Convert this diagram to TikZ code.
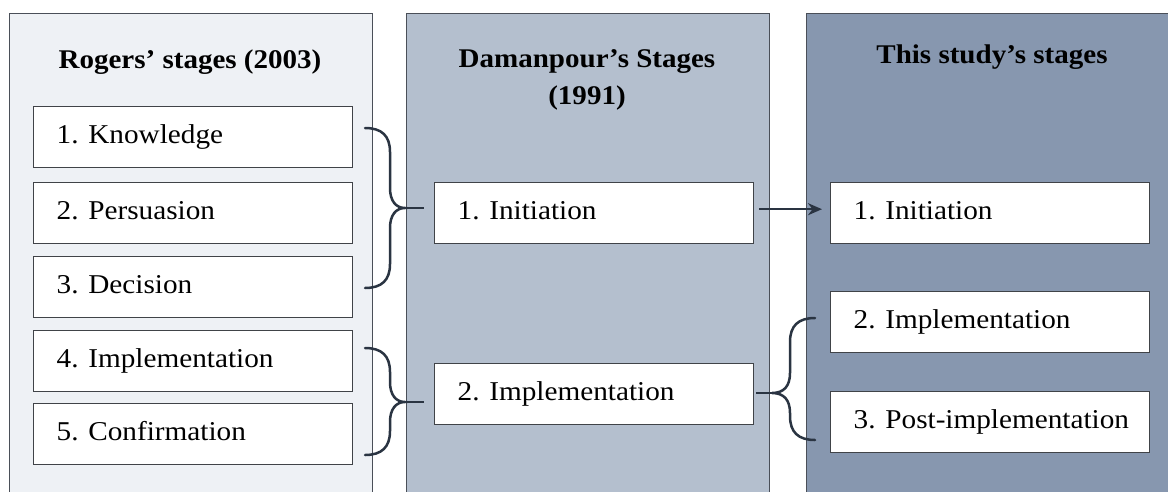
\documentclass[tikz,border=0pt]{standalone}
\usepackage{fontspec}
\setmainfont{Liberation Serif}[FakeStretch=1.075]
\usetikzlibrary{calc,arrows.meta}

\definecolor{colA}{HTML}{EEF1F5}
\definecolor{colB}{HTML}{B4BFCE}
\definecolor{colC}{HTML}{8797AF}
\definecolor{frame}{HTML}{4A4F58}
\definecolor{boxline}{HTML}{404348}
\definecolor{ink}{HTML}{2A3442}

\newcommand\boxtext[1]{\makebox[273pt][l]{\strut #1}}

\begin{document}
\begin{tikzpicture}[x=1pt,y=-1pt,
  column/.style={draw=frame, line width=1.2pt, minimum height=520pt, anchor=north west, inner sep=0pt},
  title/.style={font=\fontsize{27}{37}\selectfont\bfseries, align=center, inner sep=0pt, anchor=north},
  stagebox/.style={draw=boxline, line width=1.4pt, fill=white, minimum height=61pt,
    inner xsep=23pt, inner ysep=0pt, anchor=north west, font=\fontsize{27.2}{32}\selectfont},
  brace/.style={draw=ink, line width=2.5pt, line cap=round},
  conn/.style={draw=ink, line width=2.5pt}
]
\useasboundingbox (0,0) rectangle (1168,491);
\clip (0,0) rectangle (1168,491);
\fill[white] (0,0) rectangle (1168,491);

% three stage columns
\node (colA) [column, fill=colA, minimum width=363pt] at (9,13) {};
\node (colB) [column, fill=colB, minimum width=363pt] at (406,13) {};
\node (colC) [column, fill=colC, minimum width=372pt] at (806,13) {};

% column headings
\node (tA) [title] at (190,50) {Rogers’ stages (2003)};
\node (tB) [title] at (587,49.5) {Damanpour’s Stages\\(1991)};
\node (tC) [title] at (992,45) {This study’s stages};

% Rogers' stages
\node (r1) [stagebox] at (33,106) {\boxtext{1. Knowledge}};
\node (r2) [stagebox] at (33,182) {\boxtext{2. Persuasion}};
\node (r3) [stagebox] at (33,256) {\boxtext{3. Decision}};
\node (r4) [stagebox] at (33,330) {\boxtext{4. Implementation}};
\node (r5) [stagebox] at (33,403) {\boxtext{5. Confirmation}};

% Damanpour's stages
\node (dI) [stagebox] at (434,182) {\boxtext{1. Initiation}};
\node (dM) [stagebox] at (434,363) {\boxtext{2. Implementation}};

% this study's stages
\node (sI) [stagebox] at (830,182) {\boxtext{1. Initiation}};
\node (sM) [stagebox] at (830,291) {\boxtext{2. Implementation}};
\node (sP) [stagebox] at (830,391) {\boxtext{3. Post-implementation}};

% brace grouping stages 1-3 into initiation
\coordinate (b1) at (405,208);
\draw[brace] (365,128) .. controls (382,128) and (390,136) .. (390,152) -- (390,188)
  .. controls (390,201) and (396,208) .. (b1)
  .. controls (396,208) and (390,215) .. (390,228) -- (390,264)
  .. controls (390,280) and (382,288) .. (365,288);
\draw[conn, shorten >=10pt] (b1) -- (dI.west |- b1);

% brace grouping stages 4-5 into implementation
\coordinate (b2) at (405,402);
\draw[brace] (365,348) .. controls (382,348) and (390,356) .. (390,372) -- (390,382)
  .. controls (390,395) and (396,402) .. (b2)
  .. controls (396,402) and (390,409) .. (390,422) -- (390,431)
  .. controls (390,447) and (382,455) .. (365,455);
\draw[conn, shorten >=10pt] (b2) -- (dM.west |- b2);

% initiation carried over unchanged
\coordinate (aS) at ($(dI.east)+(5,-4)$);
\draw[conn, -{Stealth[length=14pt,width=12pt]}, shorten >=8pt] (aS) -- (sI.west |- aS);

% implementation split into two stages
\coordinate (b3) at (772,393);
\draw[conn, shorten <=2pt] (dM.east |- b3) -- (b3);
\draw[brace] (815,318) .. controls (798,318) and (790,326) .. (790,342) -- (790,373)
  .. controls (790,386) and (784,393) .. (b3)
  .. controls (784,393) and (790,400) .. (790,413) -- (790,416)
  .. controls (790,432) and (798,440) .. (815,440);
\end{tikzpicture}
\end{document}
